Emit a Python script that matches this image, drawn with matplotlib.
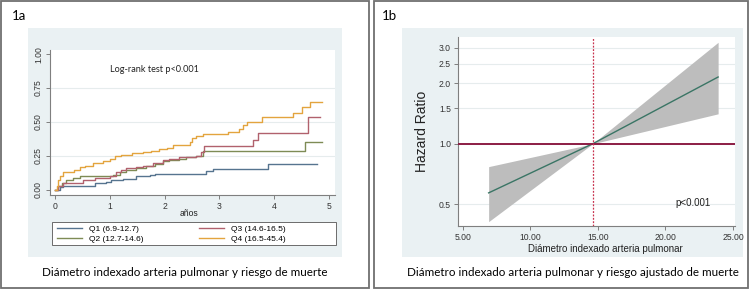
import matplotlib
matplotlib.use("Agg")
import matplotlib.pyplot as plt
from matplotlib.patches import Rectangle
from matplotlib.ticker import FixedLocator, NullLocator

# ── Data ──────────────────────────────────────────────────────────────────────
# Kaplan-Meier cumulative mortality by quartile (step times in years)
q1_t = [0, 0.09, 0.15, 0.73, 0.94, 1.03, 1.24, 1.48, 1.73, 1.82, 2.76, 2.88, 3.88, 4.78]
q1_y = [0, 0.02, 0.03, 0.05, 0.06, 0.07, 0.08, 0.10, 0.11, 0.12, 0.14, 0.155, 0.19, 0.19]

q2_t = [0, 0.06, 0.12, 0.21, 0.33, 0.45, 1.06, 1.18, 1.30, 1.48, 1.67, 1.82, 1.97, 2.09,
        2.27, 2.39, 2.58, 2.70, 4.56, 4.87]
q2_y = [0, 0.03, 0.05, 0.07, 0.09, 0.10, 0.11, 0.13, 0.15, 0.16, 0.18, 0.19, 0.21, 0.22,
        0.23, 0.24, 0.25, 0.29, 0.35, 0.35]

q3_t = [0, 0.06, 0.15, 0.52, 0.73, 1.00, 1.12, 1.21, 1.30, 1.48, 1.61, 1.79, 1.97, 2.09,
        2.27, 2.39, 2.58, 2.67, 2.72, 3.62, 3.70, 4.62, 4.84]
q3_y = [0, 0.03, 0.05, 0.07, 0.09, 0.10, 0.13, 0.15, 0.16, 0.17, 0.18, 0.20, 0.22, 0.23,
        0.24, 0.245, 0.25, 0.28, 0.32, 0.37, 0.42, 0.535, 0.535]

q4_t = [0, 0.03, 0.06, 0.10, 0.15, 0.35, 0.45, 0.55, 0.70, 0.88, 1.00, 1.10, 1.20, 1.40,
        1.60, 1.75, 1.90, 2.05, 2.15, 2.46, 2.51, 2.58, 2.71, 3.16, 3.35, 3.44, 3.50,
        3.77, 4.35, 4.50, 4.65, 4.87]
q4_y = [0, 0.03, 0.07, 0.10, 0.13, 0.15, 0.17, 0.18, 0.20, 0.21, 0.23, 0.25, 0.26, 0.27,
        0.28, 0.29, 0.30, 0.31, 0.33, 0.355, 0.38, 0.40, 0.41, 0.43, 0.45, 0.48, 0.50,
        0.535, 0.565, 0.61, 0.65, 0.65]

km_labels = ["Q1 (6.9-12.7)", "Q2 (12.7-14.6)", "Q3 (14.6-16.5)", "Q4 (16.5-45.4)"]

# Spline hazard ratio vs indexed pulmonary artery diameter
hr_x = [6.9, 14.6, 23.9]
hr_y = [0.57, 1.0, 2.15]
hr_lo = [0.41, 1.0, 1.41]
hr_hi = [0.77, 1.0, 3.20]
hr_ref = 14.6

# ── Style ─────────────────────────────────────────────────────────────────────
W, H = 750, 290
BG = "#eaf1f3"
GRID = "#e6eced"
AXC = "#7f7f7f"
colors = ["#56748f", "#7e8b55", "#b1616d", "#e3a43e"]
plt.rcParams["font.family"] = ["Liberation Sans", "DejaVu Sans"]
CAPFONT = ["Lato", "DejaVu Sans"]

fig = plt.figure(figsize=(W / 100, H / 100), dpi=100)


def px_rect(x0, y0, x1, y1):
    """pixel box (top-left origin) -> figure fraction [l, b, w, h]"""
    return [x0 / W, 1 - y1 / H, (x1 - x0) / W, (y1 - y0) / H]


def add_box(x0, y0, x1, y1, zorder=-10, **kw):
    l, b, w, h = px_rect(x0, y0, x1, y1)
    fig.add_artist(Rectangle((l, b), w, h, transform=fig.transFigure, zorder=zorder, **kw))


# panel frames + Stata graph regions
add_box(1, 1, 369, 288, facecolor="white", edgecolor="#6f6f6f", linewidth=1.3)
add_box(374, 1, 748, 288, facecolor="white", edgecolor="#6f6f6f", linewidth=1.3)
add_box(28, 28, 342, 257, facecolor=BG, edgecolor="none")
add_box(402, 28, 743, 257, facecolor=BG, edgecolor="none")
# legend frame of 1a
add_box(52, 222, 336, 245, zorder=-5, facecolor="white", edgecolor="#555555",
        linewidth=0.6)


def style_axes(ax):
    for s in ("top", "right"):
        ax.spines[s].set_visible(False)
    for s in ("left", "bottom"):
        ax.spines[s].set_color(AXC)
        ax.spines[s].set_linewidth(0.8)
    ax.tick_params(colors=AXC, labelcolor="#333333", labelsize=6.2,
                   length=3, width=0.7, pad=2)
    ax.set_facecolor("white")


# ── 1a: Kaplan-Meier ──────────────────────────────────────────────────────────
ax1 = fig.add_axes(px_rect(50, 50, 335, 195))
style_axes(ax1)
for t, y, c, lab in zip([q1_t, q2_t, q3_t, q4_t], [q1_y, q2_y, q3_y, q4_y],
                        colors, km_labels):
    ax1.step(t, y, where="post", color=c, linewidth=1.0, label=lab)
ax1.set_xlim(-0.09, 5.11)
ax1.set_ylim(-0.037, 1.03)
ax1.set_xticks([0, 1, 2, 3, 4, 5])
ax1.set_yticks([0, 0.25, 0.5, 0.75, 1.0])
ax1.set_yticklabels(["0.00", "0.25", "0.50", "0.75", "1.00"], rotation=90, va="center")
for v in [0.25, 0.5, 0.75]:
    ax1.axhline(v, color=GRID, linewidth=0.8, zorder=0)
fig.text(189 / W, 1 - 214 / H, "años", fontsize=6.2, ha="center", va="center",
         color="#222222")
ax1.text(1.0, 0.89, "Log-rank test p<0.001", fontsize=6.6, family=CAPFONT,
         color="#222222", va="center")

handles, labels = ax1.get_legend_handles_labels()
leg = fig.legend(handles, labels,
                 loc="center left", bbox_to_anchor=(57 / W, 1 - 234 / H),
                 ncol=2, fontsize=6, frameon=False, borderpad=0, borderaxespad=0,
                 handlelength=3.0, columnspacing=6.6, labelspacing=0.22,
                 handletextpad=0.85)

fig.text(12 / W, 1 - 16 / H, "1a", fontsize=9.5, family=CAPFONT, va="center")
fig.text(185 / W, 1 - 273 / H, "Diámetro indexado arteria pulmonar y riesgo de muerte",
         fontsize=8.4, family=CAPFONT, ha="center", va="center")

# ── 1b: Hazard ratio spline ───────────────────────────────────────────────────
ax2 = fig.add_axes(px_rect(458, 37, 735, 226))
style_axes(ax2)
ax2.set_yscale("log")
ax2.set_xlim(4.63, 25.15)
ax2.set_ylim(0.39, 3.40)
yt = [0.5, 1.0, 1.5, 2.0, 2.5, 3.0]
ax2.yaxis.set_major_locator(FixedLocator(yt))
ax2.yaxis.set_minor_locator(NullLocator())
ax2.set_yticklabels([f"{v:.1f}" for v in yt])
xt = [5, 10, 15, 20, 25]
ax2.set_xticks(xt)
ax2.set_xticklabels([f"{v:.2f}" for v in xt])
for v in yt:
    ax2.axhline(v, color=GRID, linewidth=0.8, zorder=0)

ax2.fill_between(hr_x, hr_lo, hr_hi, color="#bdbdbd", linewidth=0, zorder=2)
ax2.plot(hr_x, hr_y, color="#3a7565", linewidth=1.0, zorder=3)
ax2.axhline(1.0, color="#8c1d44", linewidth=1.4, zorder=4)
ax2.axvline(hr_ref, color="#c8324f", linewidth=0.9, linestyle=(0, (1.5, 1.2)), zorder=4)
ax2.text(20.7, 0.49, "p<0.001", fontsize=7, color="#222222")
fig.text(605 / W, 1 - 248.5 / H, "Diámetro indexado arteria pulmonar", fontsize=7,
         ha="center", va="center", color="#222222")
fig.text(422 / W, 1 - 131 / H, "Hazard Ratio", fontsize=10, rotation=90,
         ha="center", va="center", color="#222222")

fig.text(382 / W, 1 - 16 / H, "1b", fontsize=9.5, family=CAPFONT, va="center")
fig.text(573 / W, 1 - 273 / H,
         "Diámetro indexado arteria pulmonar y riesgo ajustado de muerte",
         fontsize=8.4, family=CAPFONT, ha="center", va="center")

fig.savefig("out.png", dpi=100)
